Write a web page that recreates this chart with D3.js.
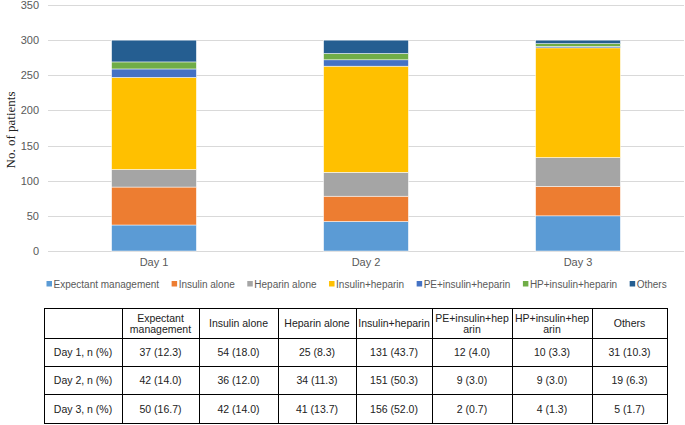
<!DOCTYPE html>
<html>
<head>
<meta charset="utf-8">
<script src="https://cdn.jsdelivr.net/npm/d3@7"></script>
<style>
  body { margin: 0; background: #fff; }
  svg { display: block; font-family: "Liberation Sans", Arial, sans-serif; }
</style>
</head>
<body>
<svg id="chart" width="685" height="425"></svg>
<script>
// Categories along the x axis
var days = ['Day 1', 'Day 2', 'Day 3'];
// Treatment groups (stack order, bottom to top)
var groups = ['Expectant management', 'Insulin alone', 'Heparin alone', 'Insulin+heparin',
              'PE+insulin+heparin', 'HP+insulin+heparin', 'Others'];
// Patient counts per group, one value per day
var expectant = [37, 42, 50];
var insulinAlone = [54, 36, 42];
var heparinAlone = [25, 34, 41];
var insulinHeparin = [131, 151, 156];
var peInsulinHeparin = [12, 9, 2];
var hpInsulinHeparin = [10, 9, 4];
var others = [31, 19, 5];
// Percentages shown in the table
var expectantPct = ['12.3', '14.0', '16.7'];
var insulinAlonePct = ['18.0', '12.0', '14.0'];
var heparinAlonePct = ['8.3', '11.3', '13.7'];
var insulinHeparinPct = ['43.7', '50.3', '52.0'];
var pePct = ['4.0', '3.0', '0.7'];
var hpPct = ['3.3', '3.0', '1.3'];
var othersPct = ['10.3', '6.3', '1.7'];
// Y axis ticks
var yTicks = [0, 50, 100, 150, 200, 250, 300, 350];
// Table header text (line breaks as in the original)
var headerLines = [[''], ['Expectant', 'management'], ['Insulin alone'], ['Heparin alone'],
                   ['Insulin+heparin'], ['PE+insulin+hep', 'arin'], ['HP+insulin+hep', 'arin'], ['Others']];
var rowLabels = ['Day 1, n (%)', 'Day 2, n (%)', 'Day 3, n (%)'];

var colors = ['#5B9BD5', '#ED7D31', '#A5A5A5', '#FFC000', '#4472C4', '#70AD47', '#255E91'];

var series = [expectant, insulinAlone, heparinAlone, insulinHeparin, peInsulinHeparin, hpInsulinHeparin, others];
var pcts = [expectantPct, insulinAlonePct, heparinAlonePct, insulinHeparinPct, pePct, hpPct, othersPct];

// Build the table the stack layout needs
var rows = days.map(function(d, i) {
    var r = { day: d };
    groups.forEach(function(g, j) { r[g] = series[j][i]; });
    return r;
});

var svg = d3.select('#chart');

// Plot area
var plot = { left: 48, right: 684, top: 5, bottom: 251 };

var x = d3.scaleBand()
    .domain(days)
    .range([plot.left, plot.right])
    .paddingInner(0.6)
    .paddingOuter(0.3);

var y = d3.scaleLinear()
    .domain([0, 350])
    .range([plot.bottom, plot.top]);

// Gridlines
svg.append('g')
    .selectAll('line')
    .data(yTicks)
    .enter()
    .append('line')
    .attr('x1', plot.left)
    .attr('x2', plot.right)
    .attr('y1', function(d) { return Math.round(y(d)) + 0.5; })
    .attr('y2', function(d) { return Math.round(y(d)) + 0.5; })
    .attr('stroke', '#d9d9d9')
    .attr('stroke-width', 1);

// Y axis tick labels
var yAxis = svg.append('g')
    .attr('transform', 'translate(' + (plot.left - 9) + ',0)')
    .call(d3.axisLeft(y).tickValues(yTicks).tickSize(0).tickPadding(0));
yAxis.select('.domain').remove();
yAxis.selectAll('text')
    .attr('font-size', '11px')
    .attr('font-family', '"Liberation Sans", Arial, sans-serif')
    .attr('fill', '#595959');

// Y axis title
svg.append('text')
    .attr('transform', 'translate(15,130) rotate(-90)')
    .attr('text-anchor', 'middle')
    .attr('font-family', '"Liberation Serif", "Times New Roman", serif')
    .attr('font-size', '13px')
    .attr('fill', '#222')
    .text('No. of patients');

// Stacked bars
var stacked = d3.stack().keys(groups)(rows);

svg.append('g')
    .selectAll('g')
    .data(stacked)
    .enter()
    .append('g')
    .attr('fill', function(d, i) { return colors[i]; })
    .selectAll('rect')
    .data(function(d) { return d; })
    .enter()
    .append('rect')
    .attr('x', function(d) { return x(d.data.day); })
    .attr('width', x.bandwidth())
    .attr('y', function(d) { return y(d[1]); })
    .attr('height', function(d) { return y(d[0]) - y(d[1]); })
    .attr('stroke', '#fff')
    .attr('stroke-width', 0.5);

// X axis labels
var xAxis = svg.append('g')
    .attr('transform', 'translate(0,' + (plot.bottom + 7) + ')')
    .call(d3.axisBottom(x).tickSize(0).tickPadding(0));
xAxis.select('.domain').remove();
xAxis.selectAll('text')
    .attr('font-size', '11px')
    .attr('font-family', '"Liberation Sans", Arial, sans-serif')
    .attr('fill', '#595959');

// Legend, laid out left to right
var legend = svg.append('g').attr('transform', 'translate(0,284)');
var lx = 46.5;
groups.forEach(function(g, i) {
    legend.append('rect')
        .attr('x', lx)
        .attr('y', -3)
        .attr('width', 5.5)
        .attr('height', 5.5)
        .attr('fill', colors[i]);
    var t = legend.append('text')
        .attr('x', lx + 7)
        .attr('y', 3.5)
        .attr('font-size', '10px')
        .attr('fill', '#595959')
        .text(g);
    lx += 7 + t.node().getComputedTextLength() + 12.5;
});

// Data table below the chart
var colEdges = [44, 122, 199, 278, 356, 432, 512, 592, 667];
var rowEdges = [308, 338, 366, 394, 423];

var table = svg.append('g');

// Horizontal rules
table.selectAll('line.h')
    .data(rowEdges)
    .enter()
    .append('line')
    .attr('x1', colEdges[0])
    .attr('x2', colEdges[colEdges.length - 1])
    .attr('y1', function(d) { return d + 0.5; })
    .attr('y2', function(d) { return d + 0.5; })
    .attr('stroke', '#000')
    .attr('stroke-width', 1);

// Vertical rules
table.selectAll('line.v')
    .data(colEdges)
    .enter()
    .append('line')
    .attr('x1', function(d) { return d + 0.5; })
    .attr('x2', function(d) { return d + 0.5; })
    .attr('y1', rowEdges[0])
    .attr('y2', rowEdges[rowEdges.length - 1] + 1)
    .attr('stroke', '#000')
    .attr('stroke-width', 1);

function colMid(c) { return (colEdges[c] + colEdges[c + 1]) / 2; }
function rowMid(r) { return (rowEdges[r] + rowEdges[r + 1]) / 2; }

// Header cells
headerLines.forEach(function(lines, c) {
    var n = lines.length;
    lines.forEach(function(line, k) {
        table.append('text')
            .attr('x', colMid(c))
            .attr('y', rowMid(0) + 4 + (k - (n - 1) / 2) * 11)
            .attr('text-anchor', 'middle')
            .attr('font-size', '10.5px')
            .attr('fill', '#222')
            .text(line);
    });
});

// Body cells
rowLabels.forEach(function(label, r) {
    table.append('text')
        .attr('x', colMid(0))
        .attr('y', rowMid(r + 1) + 4)
        .attr('text-anchor', 'middle')
        .attr('font-size', '10.5px')
        .attr('fill', '#222')
        .text(label);
    groups.forEach(function(g, j) {
        table.append('text')
            .attr('x', colMid(j + 1))
            .attr('y', rowMid(r + 1) + 4)
            .attr('text-anchor', 'middle')
            .attr('font-size', '10.5px')
            .attr('fill', '#222')
            .text(series[j][r] + ' (' + pcts[j][r] + ')');
    });
});
</script>
</body>
</html>
